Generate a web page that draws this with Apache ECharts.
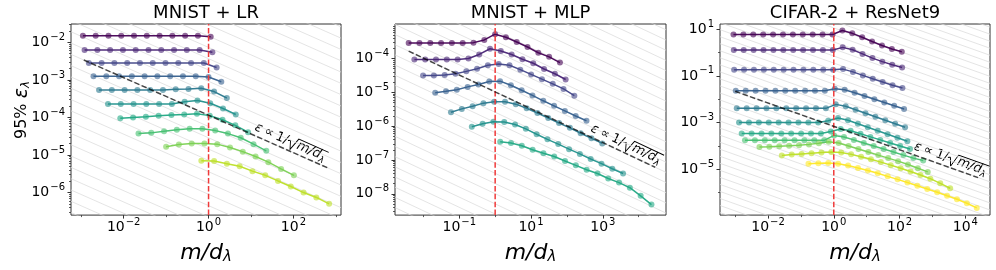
<!DOCTYPE html>
<html><head><meta charset="utf-8">
<script src="https://cdn.jsdelivr.net/npm/echarts@6/dist/echarts.min.js"></script>
<style>html,body{margin:0;padding:0;background:#fff}#c{width:996px;height:270px}</style>
</head><body><div id="c"></div>
<script>
// ---------------- data ----------------
const TITLES = ['MNIST + LR', 'MNIST + MLP', 'CIFAR-2 + ResNet9'];
const VIRIDIS = ['#440154','#482475','#414487','#355f8d','#2a788e','#21918c','#22a884','#44bf70','#7ad151','#bddf26','#fde725'];

// sketch sizes m
const M_LR = [1,2,4,8,16,32,64,128,256,512,1024];
const M_MLP = [1,2,4,8,16,32,64,128,256,512,1024,2048,4096,8192,16384];
const M_RES = [1,2,4,8,16,32,64,128,256,512,1024,2048,4096,8192,16384,32768,65536,131072,262144];

// effective dimension d_lambda per curve
const D_LR = [912, 832, 661, 513, 380, 234, 120, 44.7, 10.0, 1.48];
const D_MLP = [257, 178, 102, 46.8, 17.0, 4.47, 0.724];
const D_RES = [1122, 1096, 1072, 955, 891, 759, 631, 501, 182, 38.0, 5.89];

// 95% epsilon_lambda
const EPS_LR = [
 [1.51e-2,1.51e-2,1.51e-2,1.51e-2,1.51e-2,1.51e-2,1.51e-2,1.51e-2,1.51e-2,1.51e-2,1.41e-2],
 [6.31e-3,6.31e-3,6.31e-3,6.31e-3,6.31e-3,6.31e-3,6.31e-3,6.31e-3,6.31e-3,6.31e-3,5.50e-3],
 [2.82e-3,2.82e-3,2.82e-3,2.82e-3,2.82e-3,2.82e-3,2.82e-3,2.82e-3,2.82e-3,2.82e-3,2.14e-3],
 [1.26e-3,1.26e-3,1.26e-3,1.26e-3,1.26e-3,1.26e-3,1.26e-3,1.26e-3,1.26e-3,1.20e-3,8.91e-4],
 [5.37e-4,5.37e-4,5.37e-4,5.37e-4,5.37e-4,5.37e-4,5.62e-4,5.75e-4,6.03e-4,4.90e-4,3.31e-4],
 [2.29e-4,2.29e-4,2.29e-4,2.29e-4,2.29e-4,2.29e-4,2.63e-4,2.82e-4,2.40e-4,1.74e-4,1.20e-4],
 [9.55e-5,1.00e-4,1.05e-4,1.12e-4,1.17e-4,1.20e-4,1.26e-4,1.12e-4,8.71e-5,6.17e-5,4.07e-5],
 [3.72e-5,3.89e-5,4.27e-5,4.68e-5,5.01e-5,5.01e-5,4.47e-5,3.72e-5,2.88e-5,1.95e-5,1.29e-5],
 [1.66e-5,1.91e-5,2.04e-5,2.04e-5,1.95e-5,1.58e-5,1.23e-5,9.12e-6,6.46e-6,4.27e-6,2.88e-6],
 [7.08e-6,6.92e-6,5.89e-6,5.01e-6,3.72e-6,2.88e-6,2.04e-6,1.45e-6,1.00e-6,7.41e-7,5.01e-7]
];
const EPS_MLP = [
 [2.88e-4,2.88e-4,2.88e-4,2.88e-4,2.88e-4,2.88e-4,2.95e-4,3.55e-4,5.25e-4,4.27e-4,3.09e-4,2.19e-4,1.48e-4,1.12e-4,7.59e-5],
 [9.33e-5,9.33e-5,9.33e-5,9.33e-5,9.33e-5,1.00e-4,1.32e-4,1.95e-4,1.66e-4,1.32e-4,9.55e-5,7.24e-5,4.90e-5,3.55e-5,2.40e-5],
 [3.16e-5,3.16e-5,3.24e-5,3.55e-5,4.17e-5,5.01e-5,6.31e-5,6.92e-5,6.31e-5,4.68e-5,3.39e-5,2.45e-5,1.78e-5,1.26e-5,7.94e-6],
 [9.77e-6,1.07e-5,1.20e-5,1.45e-5,1.70e-5,2.09e-5,2.14e-5,1.62e-5,1.15e-5,8.13e-6,5.62e-6,3.98e-6,2.82e-6,2.00e-6,1.45e-6],
 [2.57e-6,3.24e-6,3.89e-6,4.79e-6,5.25e-6,5.25e-6,4.47e-6,3.39e-6,2.45e-6,1.74e-6,1.23e-6,8.91e-7,6.17e-7,4.37e-7,3.09e-7],
 [9.55e-7,1.17e-6,1.35e-6,1.32e-6,1.12e-6,8.32e-7,5.75e-7,4.07e-7,2.95e-7,2.09e-7,1.51e-7,1.07e-7,7.76e-8,5.50e-8,3.98e-8],
 [3.47e-7,3.16e-7,2.63e-7,2.00e-7,1.58e-7,1.26e-7,9.33e-8,6.92e-8,5.13e-8,3.98e-8,2.82e-8,2.14e-8,1.51e-8,8.71e-9,4.79e-9]
];
const EPS_RES = [
 [5.89,5.89,5.89,5.89,5.89,5.89,5.89,5.89,5.89,5.89,5.89,8.71,6.61,4.47,2.95,2.00,1.41,1.07],
 [1.29,1.29,1.29,1.29,1.29,1.29,1.29,1.29,1.29,1.29,1.29,1.66,1.32,0.871,0.575,0.407,0.302,0.229],
 [0.182,0.182,0.182,0.182,0.182,0.182,0.182,0.182,0.182,0.182,0.182,0.195,0.148,0.105,0.0759,0.0550,0.0398,0.0302],
 [0.0229,0.0229,0.0229,0.0229,0.0229,0.0229,0.0229,0.0229,0.0229,0.0229,0.0282,0.0257,0.0191,0.0138,0.0100,0.00724,0.00525,0.00380],
 [0.00407,0.00407,0.00407,0.00407,0.00407,0.00407,0.00407,0.00407,0.00407,0.00407,0.00603,0.00501,0.00355,0.00251,0.00178,0.00126,8.91e-4,6.31e-4],
 [1.00e-3,1.00e-3,1.00e-3,1.00e-3,1.00e-3,1.00e-3,1.00e-3,1.00e-3,1.00e-3,1.20e-3,1.58e-3,1.26e-3,8.91e-4,6.31e-4,4.47e-4,3.16e-4,2.24e-4,1.58e-4],
 [3.39e-4,3.39e-4,3.39e-4,3.39e-4,3.39e-4,3.39e-4,3.39e-4,3.39e-4,3.39e-4,4.17e-4,5.37e-4,4.47e-4,3.31e-4,2.45e-4,1.82e-4,1.35e-4,1.00e-4,7.41e-5],
 [1.74e-4,1.74e-4,1.74e-4,1.74e-4,1.74e-4,1.74e-4,1.74e-4,1.74e-4,1.74e-4,2.82e-4,2.40e-4,1.82e-4,1.35e-4,1.00e-4,7.41e-5,5.50e-5,4.07e-5,3.02e-5,2.40e-5],
 [9.12e-5,9.33e-5,9.77e-5,1.02e-4,1.07e-4,1.17e-4,1.32e-4,1.51e-4,1.35e-4,1.00e-4,7.41e-5,5.50e-5,4.07e-5,3.02e-5,2.24e-5,1.62e-5,1.12e-5,7.76e-6],
 [3.89e-5,4.27e-5,4.57e-5,4.90e-5,5.25e-5,5.50e-5,5.25e-5,4.37e-5,3.47e-5,2.69e-5,2.04e-5,1.51e-5,1.12e-5,8.13e-6,5.75e-6,3.98e-6,2.51e-6,1.55e-6],
 [1.74e-5,1.82e-5,1.86e-5,1.74e-5,1.45e-5,1.15e-5,8.91e-6,6.76e-6,5.01e-6,3.72e-6,2.75e-6,2.00e-6,1.45e-6,1.05e-6,7.41e-7,5.25e-7,3.55e-7,2.24e-7]
];

// reference slope line eps = C / sqrt(m/d)
const REF_C = [1.15e-4, 1.03e-5, 6.9e-4];
const REF_XRANGE = [[1.15e-3, 661], [3.89e-3, 2.88e4], [1.0e-3, 2.45e4]];
const ANNOT_X = [10.5, 380, 230];
const THRESH_X = 1;   // m = d_lambda

// axes (tick exponents and limits)
const X_TICKS = [[-2,0,2],[-1,1,3],[-2,0,2,4]];
const Y_TICKS = [[-6,-5,-4,-3,-2],[-8,-7,-6,-5,-4],[-5,-3,-1,1]];
const X_MINOR = [[-3,-1,1,3],[-2,0,2,4],[-3,-1,1,3]];
const X_LIM = [[5.75e-4, 1318], [1.62e-3, 5.75e4], [3.47e-4, 5.62e4]];
const Y_LIM = [[2.51e-7, 3.09e-2], [2.34e-9, 1.05e-3], [1.10e-7, 16.6]];

// ---------------- chart ----------------
const L = Math.log10;
const LOG2 = Math.log10(2);
const FONT = 'DejaVu Sans';
const GRIDS = [{left:71, width:270}, {left:395, width:271}, {left:720, width:270}];
const TOP = 24, H = 195;
const PANELS = [
  {M: M_LR, D: D_LR, E: EPS_LR},
  {M: M_MLP, D: D_MLP, E: EPS_MLP},
  {M: M_RES, D: D_RES, E: EPS_RES}
];

function yMinor(g) {
  const lo = L(Y_LIM[g][0]), hi = L(Y_LIM[g][1]);
  const out = [];
  if (g === 2) { [-6,-4,-2,0].forEach(v => out.push(v)); return out; }
  for (let n = Math.floor(lo); n <= Math.ceil(hi); n++) {
    for (let k = 2; k <= 9; k++) { const v = n + L(k); if (v > lo && v < hi) out.push(v); }
  }
  return out;
}

const tickRich = {
  b: {fontSize: 14, fontFamily: FONT, color: '#000', lineHeight: 18},
  s: {fontSize: 10, fontFamily: FONT, color: '#000', lineHeight: 10, padding: [0,0,10,1]}
};
const tickFmt = v => { const e = Math.round(v); return '{b|10}{s|' + (e < 0 ? '\u2212' : '') + Math.abs(e) + '}'; };

const grid = [], xAxis = [], yAxis = [], series = [];
PANELS.forEach((P, g) => {
  grid.push({left: GRIDS[g].left, top: TOP, width: GRIDS[g].width, height: H, show: true,
             borderColor: '#333', borderWidth: 1, backgroundColor: '#fff'});
  const x0 = L(X_LIM[g][0]), x1 = L(X_LIM[g][1]), y0 = L(Y_LIM[g][0]), y1 = L(Y_LIM[g][1]);
  xAxis.push({
    gridIndex: g, type: 'value', position: 'bottom', min: x0, max: x1,
    axisLine: {show: false, onZero: false}, splitLine: {show: false},
    axisTick: {show: true, inside: false, length: 3.5, customValues: X_TICKS[g], lineStyle: {color: '#333', width: 1}},
    axisLabel: {show: true, customValues: X_TICKS[g], formatter: tickFmt, rich: tickRich, margin: 3},
    name: '{i|m/d}{s|\u03bb}', nameLocation: 'middle', nameGap: 19,
    nameTextStyle: {rich: {
      i: {fontSize: 22, fontStyle: 'italic', fontFamily: FONT, color: '#000'},
      s: {fontSize: 15, fontStyle: 'italic', fontFamily: FONT, color: '#000', padding: [9,0,0,0]}
    }}
  });
  xAxis.push({
    gridIndex: g, type: 'value', position: 'bottom', min: x0, max: x1,
    axisLine: {show: false, onZero: false}, splitLine: {show: false}, axisLabel: {show: false},
    axisTick: {show: true, inside: false, length: 2, customValues: X_MINOR[g], lineStyle: {color: '#333', width: 0.8}}
  });
  yAxis.push({
    gridIndex: g, type: 'value', position: 'left', min: y0, max: y1,
    axisLine: {show: false, onZero: false}, splitLine: {show: false},
    axisTick: {show: true, inside: false, length: 3.5, customValues: Y_TICKS[g], lineStyle: {color: '#333', width: 1}},
    axisLabel: {show: true, customValues: Y_TICKS[g], formatter: tickFmt, rich: tickRich, margin: 6}
  });
  yAxis.push({
    gridIndex: g, type: 'value', position: 'left', min: y0, max: y1,
    axisLine: {show: false, onZero: false}, splitLine: {show: false}, axisLabel: {show: false},
    axisTick: {show: true, inside: false, length: 2, customValues: yMinor(g), lineStyle: {color: '#333', width: 0.8}}
  });

  // background guide lines of slope -1/2, spaced by factors of 2
  const lc = L(REF_C[g]);
  const kLo = Math.ceil((y0 - lc + 0.5 * x0) / LOG2), kHi = Math.floor((y1 - lc + 0.5 * x1) / LOG2);
  for (let k = kLo; k <= kHi; k++) {
    series.push({type: 'line', xAxisIndex: 2*g, yAxisIndex: 2*g, silent: true, symbol: 'none', z: 1,
      clip: true, animation: false,
      lineStyle: {color: '#dddddd', width: 0.8},
      data: [[x0, lc + k*LOG2 - 0.5*x0], [x1, lc + k*LOG2 - 0.5*x1]]});
  }

  // data curves
  P.E.forEach((eps, i) => {
    const c = VIRIDIS[i];
    series.push({type: 'line', xAxisIndex: 2*g, yAxisIndex: 2*g, z: 3, animation: false,
      symbol: 'circle', symbolSize: 6, showSymbol: true,
      lineStyle: {color: c, width: 1.5, opacity: 0.95},
      itemStyle: {color: c, opacity: 0.6},
      emphasis: {disabled: true},
      data: eps.map((v, j) => [L(P.M[j] / P.D[i]), L(v)])});
  });

  // threshold m = d_lambda
  series.push({type: 'line', xAxisIndex: 2*g, yAxisIndex: 2*g, z: 5, silent: true, symbol: 'none', animation: false,
    lineStyle: {color: '#f03a3a', width: 1.5, type: [5.5, 2.4]},
    data: [[L(THRESH_X), y0], [L(THRESH_X), y1]]});
  // 1/sqrt reference
  const r = REF_XRANGE[g];
  series.push({type: 'line', xAxisIndex: 2*g, yAxisIndex: 2*g, z: 5, silent: true, symbol: 'none', animation: false,
    lineStyle: {color: 'rgba(0,0,0,0.7)', width: 1.5, type: [5.5, 2.4]},
    data: r.map(x => [L(x), L(REF_C[g] / Math.sqrt(x))])});
});

const chart = echarts.init(document.getElementById('c'), null, {renderer: 'canvas'});
chart.setOption({animation: false, grid, xAxis, yAxis, series});

// titles, y label, annotations
const ctx = document.createElement('canvas').getContext('2d');
const meas = (t, f) => { ctx.font = f; return ctx.measureText(t).width; };
const graphic = [];
TITLES.forEach((t, g) => {
  graphic.push({type: 'text', x: GRIDS[g].left + GRIDS[g].width / 2, y: 13, z: 50,
    style: {text: t, fill: '#000', font: '18px "' + FONT + '"', align: 'center', verticalAlign: 'middle'}});
});
graphic.push({type: 'text', x: 22, y: 110, rotation: Math.PI / 2, z: 50,
  style: {text: '{n|95% }{e|\u03b5}{s|\u03bb}', align: 'center', verticalAlign: 'middle',
    rich: {
      n: {fontSize: 16, fontFamily: FONT, fill: '#000'},
      e: {fontSize: 19, fontStyle: 'italic', fontFamily: FONT, fill: '#000'},
      s: {fontSize: 12, fontStyle: 'italic', fontFamily: FONT, fill: '#000', padding: [8,0,0,0]}
    }}});

const FS = 13;
const fN = FS + 'px "' + FONT + '"', fI = 'italic ' + FS + 'px "' + FONT + '"', fS = 'italic 9px "' + FONT + '"';
for (let g = 0; g < 3; g++) {
  const xa = L(ANNOT_X[g]);
  const ya = L(REF_C[g]) - 0.5 * xa;
  const p0 = chart.convertToPixel({xAxisIndex: 2*g, yAxisIndex: 2*g}, [xa, ya]);
  const p1 = chart.convertToPixel({xAxisIndex: 2*g, yAxisIndex: 2*g}, [xa + 1, ya - 0.5]);
  const ang = Math.atan2(p1[1] - p0[1], p1[0] - p0[0]);
  const base = -4;                 // baseline, above the dashed line
  const yc = base - 0.346 * FS;    // centre for 'middle' alignment
  const kids = [];
  let x = 0;
  const put = (t, f, dy) => { kids.push({type: 'text', x: x, y: yc + (dy || 0), style: {text: t, font: f, fill: '#000', align: 'left', verticalAlign: 'middle'}}); x += meas(t, f); };
  put('\u03b5', fI);
  x += 0.25 * FS;
  put('\u221d', fN);
  x += 0.25 * FS;
  put('1/', fN);
  // radical sign
  const rx = x, top = base - 0.82 * FS;
  x += 0.8 * FS;
  put('m/d', fI);
  put('\u03bb', fS, 4);
  kids.push({type: 'polyline', shape: {points: [[rx, base - 0.38*FS], [rx + 0.18*FS, base - 0.46*FS], [rx + 0.42*FS, base + 0.18*FS], [rx + 0.72*FS, top], [x + 1, top]]},
    style: {stroke: '#000', lineWidth: 0.9, fill: null}});
  graphic.push({type: 'group', x: p0[0], y: p0[1], rotation: -ang, z: 60, children: kids});
}
chart.setOption({graphic});
</script></body></html>
